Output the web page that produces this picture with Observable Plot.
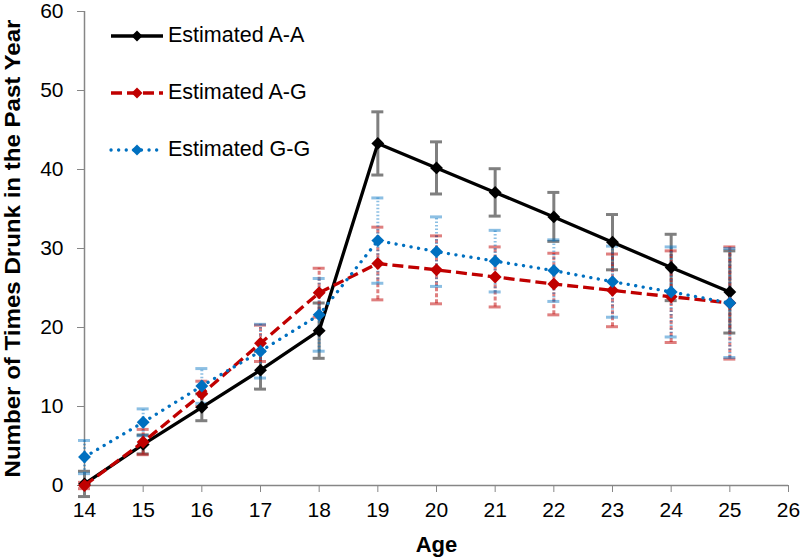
<!DOCTYPE html>
<html>
<head>
<meta charset="utf-8">
<script src="https://cdn.jsdelivr.net/npm/d3@7"></script>
<script src="https://cdn.jsdelivr.net/npm/@observablehq/plot@0.6"></script>
<style>
  body { margin: 0; background: #fff; }
  #wrap { position: relative; width: 800px; height: 560px; font-family: "Liberation Sans", Arial, sans-serif; }
  g[aria-label="y-axis label"] text, g[aria-label="x-axis label"] text { font-weight: bold; font-size: 22px; }
  #legend { position: absolute; left: 108px; top: 0; }
  .lg { position: absolute; left: 0; display: flex; align-items: center; white-space: nowrap; font-size: 21.5px; color: #000; }
  .lg svg { margin-right: 2px; }
</style>
</head>
<body>
<div id="wrap"></div>
<script>
const ages = [14, 15, 16, 17, 18, 19, 20, 21, 22, 23, 24, 25];
const seriesNames = ["Estimated A-A", "Estimated A-G", "Estimated G-G"];
const aa    = [0.2, 5.2, 9.9, 14.6, 19.6, 43.3, 40.2, 37.1, 34.0, 30.8, 27.6, 24.5];
const aaErr = [1.6, 1.2, 1.7, 2.4, 3.5, 4.0, 3.3, 3.0, 3.1, 3.5, 4.2, 5.2];
const ag    = [0.0, 5.5, 11.6, 18.0, 24.4, 28.1, 27.3, 26.4, 25.5, 24.7, 23.9, 23.1];
const agErr = [0.4, 1.6, 1.6, 2.3, 3.1, 4.6, 4.3, 3.8, 3.9, 4.6, 5.8, 7.1];
const gg    = [3.6, 8.0, 12.6, 17.0, 21.6, 31.0, 29.6, 28.4, 27.2, 25.8, 24.5, 23.1];
const ggErr = [2.1, 1.7, 2.2, 3.4, 4.6, 5.4, 4.4, 3.9, 3.9, 4.5, 5.7, 6.9];
const xTicks = [14, 15, 16, 17, 18, 19, 20, 21, 22, 23, 24, 25, 26];
const yTicks = [0, 10, 20, 30, 40, 50, 60];
const xLabel = "Age";
const yLabel = "Number of Times Drunk in the Past Year";

const styles = [
  {color: "#000000", dash: null, errColor: "#7f7f7f", errDash: null, errOpacity: 1},
  {color: "#c00000", dash: "11,5", errColor: "#c00000", errDash: "4,2", errOpacity: 0.5},
  {color: "#0070c0", dash: "0.1,7.5", errColor: "#0070c0", errDash: "1.5,2", errOpacity: 0.45}
];
const valueLists = [aa, ag, gg];
const errLists = [aaErr, agErr, ggErr];

const rows = seriesNames.flatMap((name, s) => ages.map((age, i) => ({
  series: name, age, value: valueLists[s][i],
  lo: valueLists[s][i] - errLists[s][i], hi: valueLists[s][i] + errLists[s][i]
})));

const errMarks = seriesNames.flatMap((name, s) => {
  const st = styles[s];
  const data = rows.filter(d => d.series === name);
  const common = {stroke: st.errColor, strokeOpacity: st.errOpacity, strokeWidth: 3};
  return [
    Plot.ruleX(data, {x: "age", y1: "lo", y2: "hi", ...common, strokeDasharray: st.errDash}),
    Plot.ruleY(data, {y: "hi", x1: "age", x2: "age", insetLeft: -6, insetRight: -6, ...common}),
    Plot.ruleY(data, {y: "lo", x1: "age", x2: "age", insetLeft: -6, insetRight: -6, ...common})
  ];
});

const lineMarks = seriesNames.flatMap((name, s) => {
  const st = styles[s];
  const data = rows.filter(d => d.series === name);
  return [
    Plot.line(data, {x: "age", y: "value", stroke: st.color, strokeWidth: 3.3, strokeDasharray: st.dash, strokeLinecap: s === 2 ? "round" : "butt"}),
    Plot.dot(data, {x: "age", y: "value", symbol: "diamond2", r: 5.8, fill: st.color, stroke: "none"})
  ];
});

const chart = Plot.plot({
  width: 800,
  height: 560,
  marginLeft: 84,
  marginRight: 12,
  marginTop: 11,
  marginBottom: 75,
  style: {fontFamily: "'Liberation Sans', Arial, sans-serif", fontSize: "21px", color: "#000", background: "#fff", overflow: "visible"},
  x: {domain: [14, 26]},
  y: {domain: [0, 60]},
  marks: [
    Plot.axisX({ticks: xTicks, tickSize: 7, tickPadding: 10, stroke: "#868686", fill: "#000", label: xLabel, labelAnchor: "center", labelOffset: 66, labelArrow: false}),
    Plot.axisY({ticks: yTicks, tickSize: 7, tickPadding: 14, stroke: "#868686", fill: "#000", label: yLabel, labelAnchor: "center", labelOffset: 80, labelArrow: false}),
    Plot.ruleX([14], {stroke: "#868686", strokeWidth: 1.5}),
    Plot.ruleY([0], {stroke: "#868686", strokeWidth: 1.5}),
    ...errMarks,
    ...lineMarks
  ]
});

const wrap = document.getElementById("wrap");
wrap.appendChild(chart);
const yl = chart.querySelector('g[aria-label="y-axis label"] text');
if (yl) { yl.setAttribute("textLength", "458"); yl.setAttribute("lengthAdjust", "spacingAndGlyphs"); }

// legend
const legend = document.createElement("div");
legend.id = "legend";
const legendTops = [36, 93, 150];
seriesNames.forEach((name, s) => {
  const st = styles[s];
  const row = document.createElement("div");
  row.className = "lg";
  row.style.top = (legendTops[s] - 13) + "px";
  row.innerHTML = `<svg width="58" height="14"><line x1="3" y1="7" x2="55" y2="7" stroke="${st.color}" stroke-width="3.3" ${st.dash ? `stroke-dasharray="${st.dash}"` : ""} stroke-linecap="${s === 2 ? "round" : "butt"}"/><path d="M29,1.5L34.5,7L29,12.5L23.5,7Z" fill="${st.color}"/></svg><span>${name}</span>`;
  legend.appendChild(row);
});
wrap.appendChild(legend);
</script>
</body>
</html>
